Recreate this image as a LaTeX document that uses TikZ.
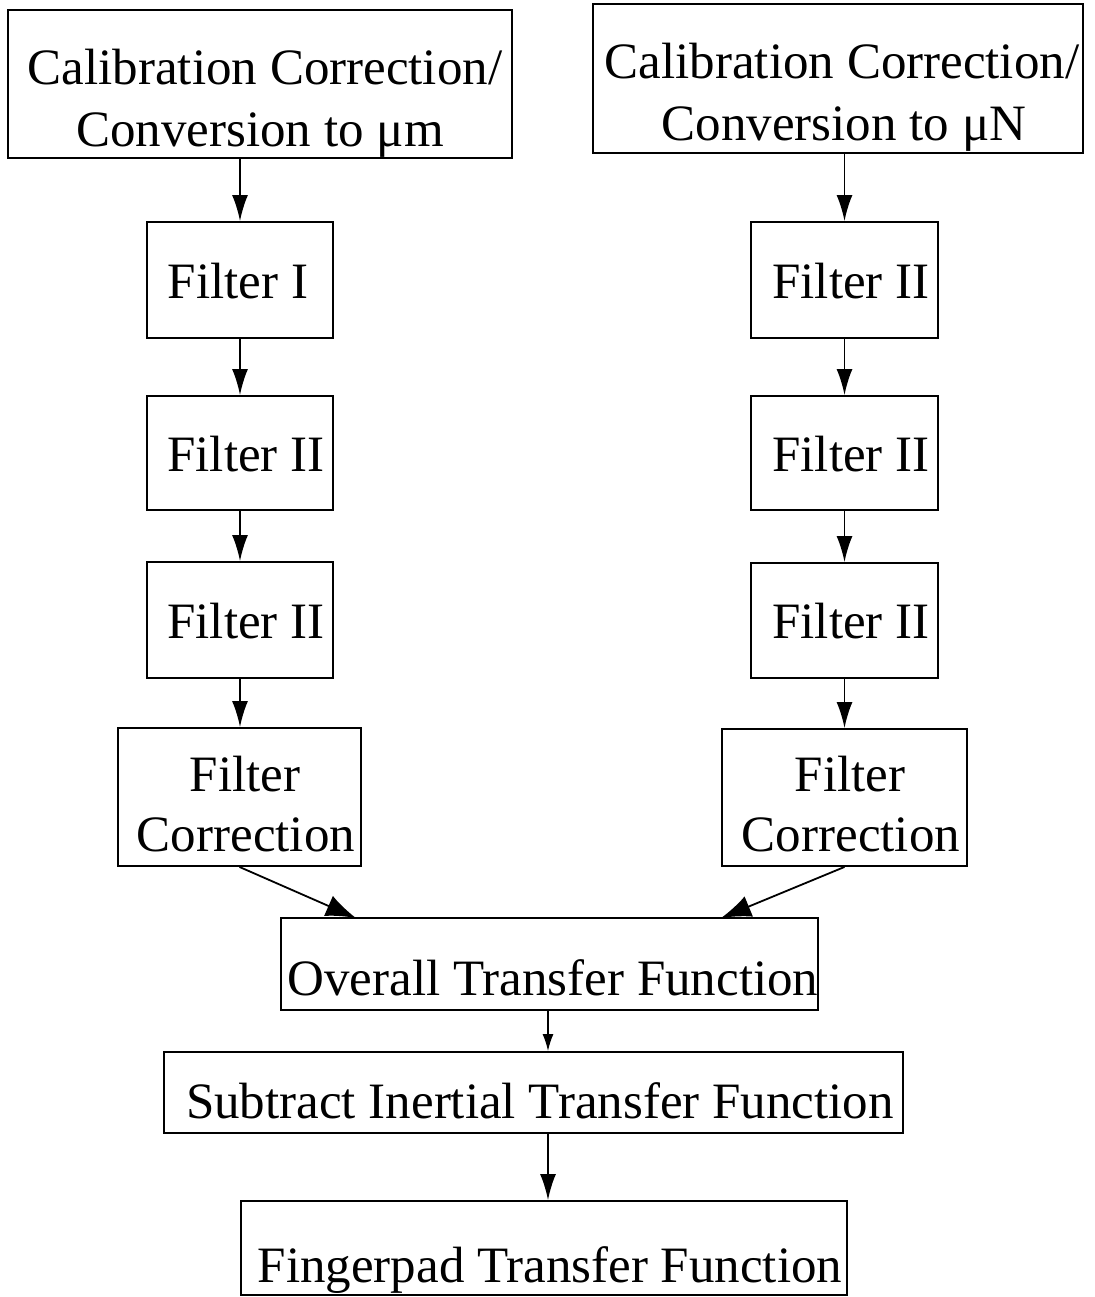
\documentclass[tikz,border=0pt]{standalone}
\usepackage{fontspec}
\setmainfont{Liberation Serif}
\usetikzlibrary{arrows.meta}
\begin{document}
\begin{tikzpicture}[x=1pt,y=-1pt,
  box/.style={draw,line width=1.9pt,inner sep=0pt,rectangle},
  lbl/.style={anchor=base,inner sep=0pt,font=\fontsize{51}{61}\selectfont},
  conn/.style={line width=1.8pt,-{Latex[length=26pt,width=16pt]}},
  bigconn/.style={line width=1.8pt,-{Latex[length=30pt,width=22pt]}},
  smallconn/.style={line width=1.4pt,-{Latex[length=17pt,width=11pt]}}]
\useasboundingbox (0,0) rectangle (1094,1297);
% boxes
\node[box,minimum width=504pt,minimum height=148pt] (calL) at (260,84) {};
\node[box,minimum width=490pt,minimum height=149pt] (calR) at (838,78.5) {};
\node[box,minimum width=186pt,minimum height=116pt] (f1L) at (240,280) {};
\node[box,minimum width=186pt,minimum height=114pt] (f2L) at (240,453) {};
\node[box,minimum width=186pt,minimum height=116pt] (f3L) at (240,620) {};
\node[box,minimum width=243pt,minimum height=138pt] (fcL) at (239.5,797) {};
\node[box,minimum width=187pt,minimum height=116pt] (f1R) at (844.5,280) {};
\node[box,minimum width=187pt,minimum height=114pt] (f2R) at (844.5,453) {};
\node[box,minimum width=187pt,minimum height=115pt] (f3R) at (844.5,620.5) {};
\node[box,minimum width=245pt,minimum height=137pt] (fcR) at (844.5,797.5) {};
\node[box,minimum width=537pt,minimum height=92pt] (ov) at (549.5,964) {};
\node[box,minimum width=739pt,minimum height=81pt] (sub) at (533.5,1092.5) {};
\node[box,minimum width=606pt,minimum height=94pt] (fp) at (544,1248) {};
% texts
\node[lbl] (tcalL1) at (265,85) {Calibration Correction/};
\node[lbl] (tcalL2) at (260,147) {Conversion to μm};
\node[lbl] (tcalR1) at (842,79) {Calibration Correction/};
\node[lbl] (tcalR2) at (844,141) {Conversion to μN};
\node[lbl] (tf1L) at (238,298) {Filter I};
\node[lbl] (tf2L) at (246,471) {Filter II};
\node[lbl] (tf3L) at (246,638) {Filter II};
\node[lbl] (tfcL1) at (245,791) {Filter};
\node[lbl] (tfcL2) at (246,851) {Correction};
\node[lbl] (tf1R) at (851,298) {Filter II};
\node[lbl] (tf2R) at (851,471) {Filter II};
\node[lbl] (tf3R) at (851,638) {Filter II};
\node[lbl] (tfcR1) at (850,791) {Filter};
\node[lbl] (tfcR2) at (851,851) {Correction};
\node[lbl] (tov) at (553,995) {Overall Transfer Function};
\node[lbl] (tsub) at (540,1118) {Subtract Inertial Transfer Function};
\node[lbl] (tfp) at (550,1282) {Fingerpad Transfer Function};
% connectors
\draw[conn] (calL.south -| f1L.north) -- (f1L.north);
\draw[conn] (f1L) -- (f2L);
\draw[conn] (f2L) -- (f3L);
\draw[conn] (f3L.south) -- (f3L.south |- fcL.north);
\draw[conn] (calR.south -| f1R.north) -- (f1R.north);
\draw[conn] (f1R) -- (f2R);
\draw[conn] (f2R) -- (f3R);
\draw[conn] (f3R.south) -- (f3R.south |- fcR.north);
\coordinate (ovinL) at (356,918);
\coordinate (ovinR) at (721,918);
\draw[bigconn] (fcL.south) -- (ovinL);
\draw[bigconn] (fcR.south) -- (ovinR);
\draw[smallconn] (ov.south -| 548,0) -- (sub.north -| 548,0);
\draw[conn] (sub.south -| 548,0) -- (fp.north -| 548,0);
\end{tikzpicture}
\end{document}
